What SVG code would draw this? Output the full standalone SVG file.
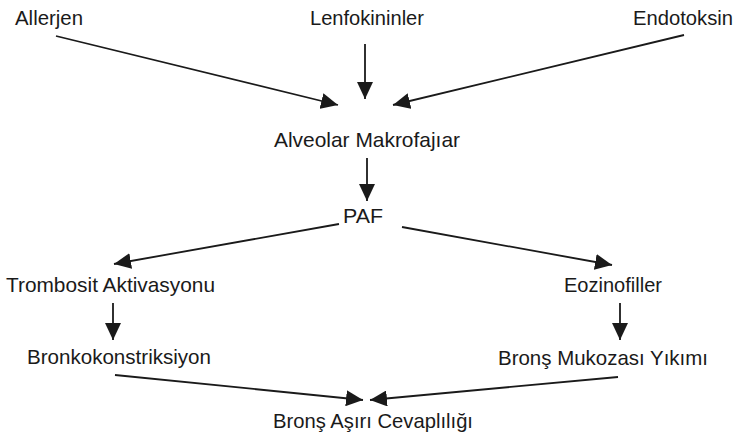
<svg xmlns="http://www.w3.org/2000/svg" width="739" height="439" viewBox="0 0 739 439">
<defs>
<style>
text{font-family:"Liberation Sans",Arial,sans-serif;font-size:21px;fill:#1a1a1a}
.c{stroke:#1a1a1a;stroke-width:1.8;fill:none;marker-end:url(#ah)}
</style>
<marker id="ah" markerUnits="userSpaceOnUse" markerWidth="18" markerHeight="16" viewBox="0 0 18 16" refX="17" refY="8" orient="auto">
<path d="M0,0 L17,8 L0,16 Z" fill="#1a1a1a"/>
</marker>
</defs>
<rect width="739" height="439" fill="#fff"/>
<g id="connectors">
<line class="c" x1="56" y1="36" x2="338" y2="105"/>
<line class="c" x1="365" y1="44" x2="365" y2="99"/>
<line class="c" x1="684" y1="35" x2="393" y2="105"/>
<line class="c" x1="367" y1="158" x2="367" y2="201"/>
<line class="c" x1="339" y1="224" x2="114" y2="264"/>
<line class="c" x1="402" y1="227" x2="612" y2="265"/>
<line class="c" x1="113" y1="303" x2="113" y2="340"/>
<line class="c" x1="620" y1="303" x2="620" y2="340"/>
<line class="c" x1="115" y1="375" x2="363" y2="400"/>
<line class="c" x1="618" y1="377" x2="370" y2="400"/>
</g>
<g id="allerjen"><text x="15" y="25" textLength="68" lengthAdjust="spacingAndGlyphs">Allerjen</text></g>
<g id="lenfokininler"><text x="310" y="25" textLength="114" lengthAdjust="spacingAndGlyphs">Lenfokininler</text></g>
<g id="endotoksin"><text x="633" y="25" textLength="100" lengthAdjust="spacingAndGlyphs">Endotoksin</text></g>
<g id="alveolar"><text x="274" y="147" textLength="186" lengthAdjust="spacingAndGlyphs">Alveolar Makrofajıar</text></g>
<g id="paf"><text x="343" y="223" textLength="40" lengthAdjust="spacingAndGlyphs">PAF</text></g>
<g id="trombosit"><text x="6" y="292" textLength="209" lengthAdjust="spacingAndGlyphs">Trombosit Aktivasyonu</text></g>
<g id="eozinofiller"><text x="564" y="292" textLength="98" lengthAdjust="spacingAndGlyphs">Eozinofiller</text></g>
<g id="bronkokonstriksiyon"><text x="27" y="364" textLength="184" lengthAdjust="spacingAndGlyphs">Bronkokonstriksiyon</text></g>
<g id="mukoza"><text x="498" y="365" textLength="210" lengthAdjust="spacingAndGlyphs">Bronş Mukozası Yıkımı</text></g>
<g id="cevap"><text x="273" y="428" textLength="200" lengthAdjust="spacingAndGlyphs">Bronş Aşırı Cevaplılığı</text></g>
</svg>
